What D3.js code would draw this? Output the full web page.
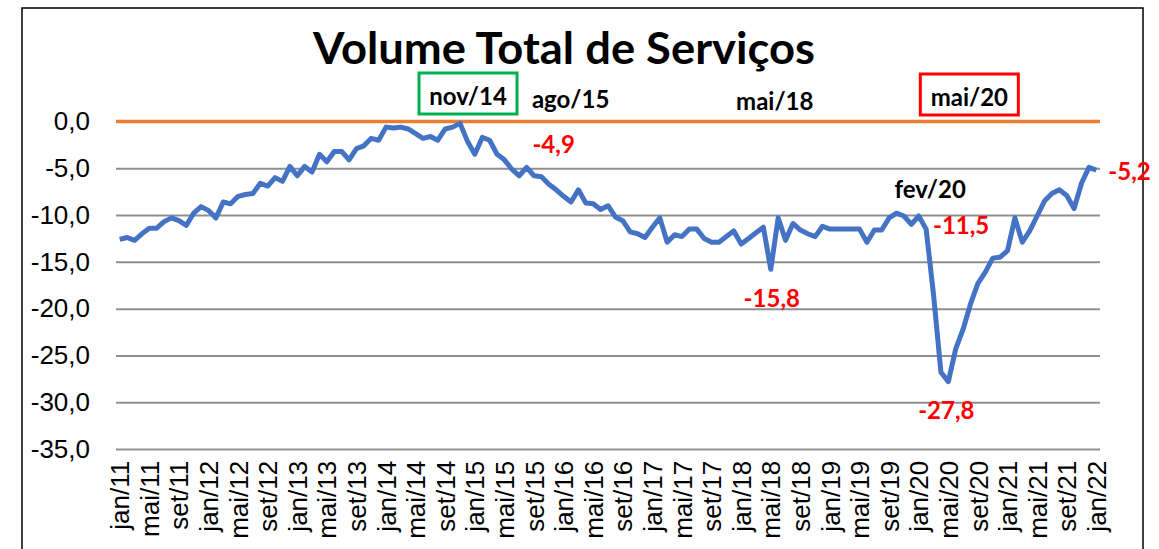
<!DOCTYPE html>
<html>
<head>
<meta charset="utf-8">
<script src="https://cdn.jsdelivr.net/npm/d3@7"></script>
<style>
  body { margin: 0; background: #fff; }
  svg { display: block; }
</style>
</head>
<body>
<div id="chart"></div>
<script>
// Meses e anos do eixo x (jan/11 a jan/22)
const meses = ["jan", "fev", "mar", "abr", "mai", "jun", "jul", "ago", "set", "out", "nov", "dez"];
const anos = ["11", "12", "13", "14", "15", "16", "17", "18", "19", "20", "21", "22"];

// Volume de serviços, % abaixo do pico (nov/14)
const volume = [
  -12.6, -12.4, -12.7, -12.0, -11.4, -11.4, -10.7, -10.3, -10.6, -11.1, -9.8, -9.1,
  -9.5, -10.3, -8.6, -8.8, -8.0, -7.8, -7.7, -6.6, -6.9, -6.0, -6.4, -4.8,
  -5.8, -4.8, -5.4, -3.5, -4.3, -3.2, -3.2, -4.1, -2.9, -2.6, -1.8, -2.0,
  -0.6, -0.7, -0.6, -0.8, -1.3, -1.8, -1.6, -2.0, -0.8, -0.6, -0.2, -2.1,
  -3.5, -1.7, -2.0, -3.5, -4.1, -5.1, -5.8, -4.9, -5.8, -5.9, -6.7, -7.3,
  -8.0, -8.6, -7.3, -8.7, -8.8, -9.4, -9.0, -10.2, -10.6, -11.8, -12.0, -12.4,
  -11.3, -10.3, -12.9, -12.1, -12.3, -11.5, -11.5, -12.5, -12.9, -12.9, -12.3, -11.7,
  -13.1, -12.5, -11.9, -11.3, -15.8, -10.3, -12.7, -10.9, -11.6, -12.0, -12.3, -11.2,
  -11.5, -11.5, -11.5, -11.5, -11.5, -12.9, -11.6, -11.6, -10.3, -9.8, -10.1, -11.0,
  -10.1, -11.5, -18.5, -26.8, -27.8, -24.3, -22.2, -19.5, -17.3, -16.1, -14.6, -14.5,
  -13.8, -10.3, -12.9, -11.7, -10.1, -8.5, -7.7, -7.3, -7.9, -9.3, -6.6, -4.9,
  -5.2
];

// Ticks do eixo y
const yTicks = [0, -5, -10, -15, -20, -25, -30, -35];

// Destaques: mês e rótulo
const destaquesMes = ["nov/14", "ago/15", "mai/18", "mai/20", "fev/20"];
const destaquesValor = [
  { mes: "ago/15", valor: -4.9 },
  { mes: "mai/18", valor: -15.8 },
  { mes: "fev/20", valor: -11.5 },
  { mes: "mai/20", valor: -27.8 },
  { mes: "jan/22", valor: -5.2 }
];

// Monta rótulos de cada mês
let labels = [];
anos.forEach(a => meses.forEach(m => labels.push(m + "/" + a)));
labels = labels.slice(0, volume.length);
const data = volume.map((v, i) => ({ mes: labels[i], valor: v }));

let width = 1159, height = 549;

const fmt = d3.formatLocale({ decimal: ",", thousands: ".", grouping: [3], currency: ["R$", ""], minus: "-" }).format(".1f");

let svg = d3.select('#chart')
  .append('svg')
  .attr('width', width)
  .attr('height', height)
  .style('font-family', 'Lato, "Open Sans", sans-serif');

// Moldura
svg.append('rect')
  .attr('x', 22).attr('y', 8)
  .attr('width', 1121).attr('height', 560)
  .attr('fill', 'none')
  .attr('stroke', '#000')
  .attr('stroke-width', 1.5);

const xScale = d3.scalePoint()
  .domain(labels)
  .range([116, 1100])
  .padding(0.5);

const yScale = d3.scaleLinear()
  .domain([-35, 0])
  .range([449, 121.5]);

// Eixo y com linhas de grade
let yaxis = svg.append('g')
  .attr('transform', `translate(116,0)`)
  .call(d3.axisLeft(yScale).tickValues(yTicks).tickSize(-984).tickFormat(fmt).tickPadding(26));
yaxis.select('.domain').remove();
yaxis.selectAll('line').attr('stroke', '#8f8f8f').attr('stroke-width', 2);
yaxis.selectAll('text').style('font-size', '26px').attr('fill', '#000');

// Eixo x (um rótulo a cada 4 meses)
let xaxis = svg.append('g')
  .attr('transform', `translate(0,${yScale(-35)})`)
  .call(d3.axisBottom(xScale).tickValues(labels.filter((d, i) => i % 4 === 0)).tickSize(0));
xaxis.select('.domain').remove();
xaxis.selectAll('text')
  .style('font-size', '26px')
  .attr('fill', '#000')
  .style('text-anchor', 'end')
  .attr('dx', '-0.3em')
  .attr('dy', '0.35em')
  .attr('transform', 'rotate(-90)')
  .attr('y', 0)
  .attr('x', -4);

// Linha de referência em 0
svg.append('line')
  .attr('x1', 116).attr('x2', 1100)
  .attr('y1', yScale(0)).attr('y2', yScale(0))
  .attr('stroke', '#ED7D31')
  .attr('stroke-width', 3.5);

// Série
let line = d3.line()
  .x(d => xScale(d.mes))
  .y(d => yScale(d.valor));

svg.append('path')
  .datum(data)
  .attr('d', line)
  .attr('fill', 'none')
  .attr('stroke', '#4472C4')
  .attr('stroke-width', 5)
  .attr('stroke-linejoin', 'round');

// Título
svg.append('text')
  .attr('x', 564)
  .attr('y', 64)
  .attr('text-anchor', 'middle')
  .attr('textLength', 502)
  .attr('lengthAdjust', 'spacingAndGlyphs')
  .style('font-size', '44px')
  .style('font-weight', 'bold')
  .text('Volume Total de Serviços');

// Rótulos de meses em destaque (posição relativa ao mês)
const mesPos = {
  "nov/14": { dx: 8, y: 105, box: '#00B050' },
  "ago/15": { dx: 44, y: 108 },
  "mai/18": { dx: 4, y: 110 },
  "mai/20": { dx: 21, y: 106, box: '#FF0000' },
  "fev/20": { dx: 4, y: 198 }
};
destaquesMes.forEach(m => {
  const p = mesPos[m];
  const cx = xScale(m) + p.dx;
  if (p.box) {
    svg.append('rect')
      .attr('x', cx - 49).attr('y', p.y - 32)
      .attr('width', 98).attr('height', 41)
      .attr('fill', '#fff')
      .attr('stroke', p.box)
      .attr('stroke-width', 3);
  }
  svg.append('text')
    .attr('x', cx)
    .attr('y', p.y)
    .attr('text-anchor', 'middle')
    .style('font-size', '24px')
    .style('font-weight', 'bold')
    .text(m);
});

// Rótulos de valores em vermelho (deslocamento da linha de base em relação ao ponto)
const valPos = {
  "ago/15": { dx: 27, dy: -14, anchor: 'middle' },
  "mai/18": { dx: 1, dy: 38, anchor: 'middle' },
  "fev/20": { dx: 35, dy: 5, anchor: 'middle' },
  "mai/20": { dx: -2, dy: 37, anchor: 'middle' },
  "jan/22": { dx: 12, dy: 10, anchor: 'start' }
};
destaquesValor.forEach(d => {
  const p = valPos[d.mes];
  svg.append('text')
    .attr('x', xScale(d.mes) + p.dx)
    .attr('y', yScale(d.valor) + p.dy)
    .attr('text-anchor', p.anchor)
    .attr('fill', '#FF0000')
    .style('font-size', '24px')
    .style('font-weight', 'bold')
    .text(fmt(d.valor));
});
</script>
</body>
</html>
